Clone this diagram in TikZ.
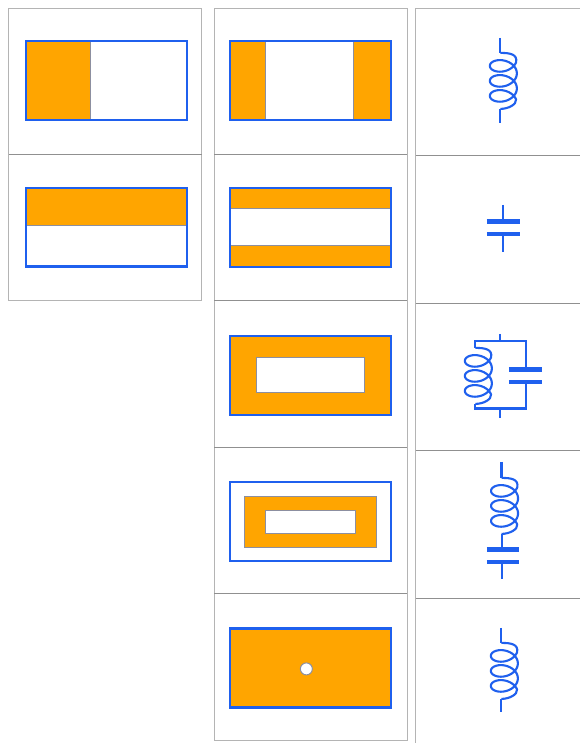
\documentclass[tikz,border=0pt]{standalone}
\definecolor{bluew}{HTML}{1F60EE}
\definecolor{orangef}{HTML}{FFA500}
\definecolor{frameg}{HTML}{B4B4B4}
\definecolor{edgeg}{HTML}{8C8FA0}
\tikzset{
  framebox/.style={draw=frameg,line width=1pt,fill=white},
  outline/.style={draw=bluew,line width=2.2pt,line join=miter},
  orangepart/.style={fill=orangef,draw=edgeg,line width=1pt},
  whitepart/.style={fill=white,draw=edgeg,line width=1pt},
  wire/.style={draw=bluew,line width=2.2pt},
  plate/.style={draw=bluew,line width=5pt},
  thinplate/.style={draw=bluew,line width=4.2pt},
  coilpic/.pic={
    \draw[draw=bluew,line width=2.1pt,line join=round]
      (0,0) .. controls (9,0) and (17.5,1) .. (15.7,9.6)
      -- plot[domain=20:1060,samples=160] ({3+13.5*cos(\x)},{5.5+\x/24+9.25*sin(\x)})
      .. controls (16.5,51.5) and (8,56) .. (0,56);
  }
}
\begin{document}
\begin{tikzpicture}[x=1pt,y=-1pt]
\useasboundingbox (0,0) rectangle (579,743);
\fill[white] (0,0) rectangle (579,743);
\begin{scope}[shift={(-0.15,-0.1)}]
% frames
\foreach \a/\b in {9/155,155/301}
  \draw[framebox] (9,\a) rectangle (202,\b);
\foreach \a/\b in {9/155,155/301,301/448,448/594,594/741}
  \draw[framebox] (214.5,\a) rectangle (407.5,\b);
\foreach \a/\b in {9/156,156/304,304/451,451/599,599/748}
  \draw[framebox] (416,\a) rectangle (584,\b);
\foreach \y in {155} \draw[draw=frameg!80!black,line width=1pt] (9,\y) -- (202,\y);
\foreach \y in {155,301,448,594} \draw[draw=frameg!80!black,line width=1pt] (214.5,\y) -- (407.5,\y);
\foreach \y in {156,304,451,599} \draw[draw=frameg!80!black,line width=1pt] (416,\y) -- (584,\y);
% column 1
\draw[orangepart] (26,41) rectangle (91,120);
\draw[outline] (26,41) rectangle (187,120);
\draw[orangepart] (26,188) rectangle (187,226);
\draw[outline] (26,188) rectangle (187,266.5);
% column 2
\draw[orangepart] (230,41) rectangle (266,120);
\draw[orangepart] (354,41) rectangle (391,120);
\draw[outline] (230,41) rectangle (391,120);
\draw[orangepart] (230,188) rectangle (391,209);
\draw[orangepart] (230,246) rectangle (391,267);
\draw[outline] (230,188) rectangle (391,267);
\draw[orangepart] (230,336) rectangle (391,415);
\draw[whitepart] (257,358) rectangle (365,393);
\draw[outline] (230,336) rectangle (391,415);
\draw[orangepart] (245,496.5) rectangle (377,547.5);
\draw[whitepart] (266,510.5) rectangle (356,534);
\draw[outline] (230,482) rectangle (391,561);
\draw[orangepart] (230,628.5) rectangle (391,707.5);
\draw[whitepart] (306.5,669) circle (6);
\draw[outline] (230,628.5) rectangle (391,707.5);
% column 3: inductor
\draw[wire] (500.5,38) -- (500.5,53);
\pic at (500.5,53) {coilpic};
\draw[wire] (500.5,109) -- (500.5,123);
% capacitor
\draw[wire] (503,205) -- (503,222);
\draw[plate] (487,222) -- (520,222);
\draw[thinplate] (487,234) -- (520,234);
\draw[wire] (503,234) -- (503,252);
% parallel LC
\draw[wire] (500.5,334) -- (500.5,341);
\draw[wire] (475.5,348) -- (475.5,341) -- (526,341) -- (526,371);
\pic at (475.5,348) {coilpic};
\draw[wire] (475.5,404) -- (475.5,408.5) -- (526,408.5) -- (526,382);
\draw[wire] (500.5,408.5) -- (500.5,418);
\draw[plate] (509,370) -- (542,370);
\draw[thinplate] (509,382) -- (542,382);
% series LC
\draw[wire] (501.7,462) -- (501.7,478);
\pic at (501.7,478) {coilpic};
\draw[wire] (502.5,534) -- (502.5,550);
\draw[plate] (487,550) -- (519.5,550);
\draw[thinplate] (487,562) -- (519.5,562);
\draw[wire] (502.5,562) -- (502.5,579);
% inductor 2
\draw[wire] (501.5,628) -- (501.5,643);
\pic at (501.5,643) {coilpic};
\draw[wire] (501.5,699) -- (501.5,712);
\end{scope}
\end{tikzpicture}
\end{document}
